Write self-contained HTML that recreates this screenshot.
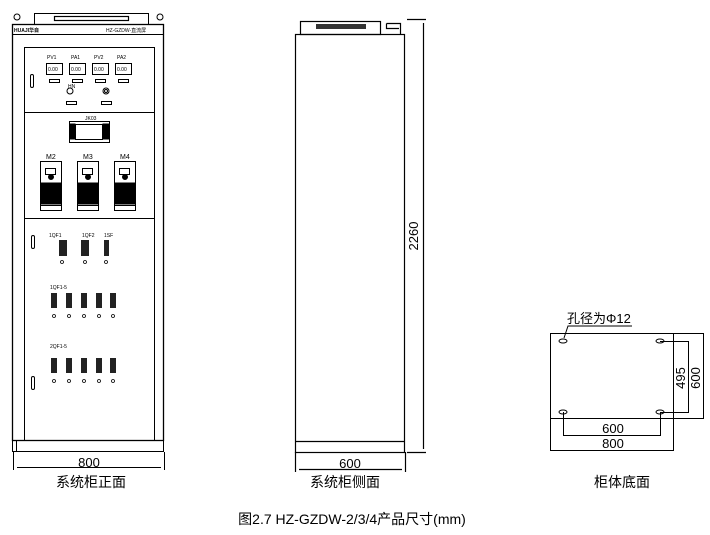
<!DOCTYPE html>
<html><head><meta charset="utf-8"><style>
html,body{margin:0;padding:0;background:#fff;}
svg{display:block;}
text{font-family:"Liberation Sans","Noto Sans CJK SC",sans-serif;fill:#000;}
</style></head><body>
<svg width="710" height="535" viewBox="0 0 710 535" xmlns="http://www.w3.org/2000/svg">
<g fill="none" stroke="#000" stroke-width="1">
<!-- FRONT -->
<rect x="34.5" y="13.5" width="114" height="11"/>
<rect x="54.5" y="16.5" width="74" height="4" stroke-width="1.2"/>
<circle cx="17" cy="17" r="3"/><circle cx="160" cy="17" r="3"/>
<rect x="12.5" y="24.5" width="151" height="416" stroke-width="1.3"/>
<line x1="12" y1="34.5" x2="164" y2="34.5"/>
<rect x="24.5" y="47.5" width="130" height="393"/>
<line x1="24" y1="112.5" x2="155" y2="112.5"/>
<line x1="24" y1="218.5" x2="155" y2="218.5"/>
<rect x="12.5" y="440.5" width="151" height="11"/>
<rect x="12.5" y="440.5" width="4" height="11"/>
<!-- meters -->
<rect x="46.5" y="63.5" width="16" height="11"/><rect x="69.5" y="63.5" width="16" height="11"/>
<rect x="92.5" y="63.5" width="16" height="11"/><rect x="115.5" y="63.5" width="16" height="11"/>
<rect x="49.5" y="79.5" width="10" height="3"/><rect x="72.5" y="79.5" width="10" height="3"/>
<rect x="95.5" y="79.5" width="10" height="3"/><rect x="118.5" y="79.5" width="10" height="3"/>
<circle cx="70" cy="91" r="3"/><circle cx="106" cy="91" r="3"/><circle cx="106" cy="91" r="1.5"/>
<rect x="66.5" y="101.5" width="10" height="3"/><rect x="101.5" y="101.5" width="10" height="3"/>
<rect x="30.5" y="74.5" width="3" height="13" rx="1.5"/>
<!-- JK03 -->
<rect x="69.5" y="121.5" width="40" height="21"/>
<rect x="75.5" y="124.5" width="27" height="15"/>
<rect x="70" y="124" width="5" height="15" fill="#000"/><rect x="103" y="124" width="6" height="15" fill="#000"/>
<!-- M modules -->
<g id="m">
<rect x="40.5" y="161.5" width="21" height="49"/>
<rect x="45.5" y="168.5" width="10" height="6"/>
<circle cx="51" cy="177" r="2.5" fill="#000"/>
<rect x="41" y="183" width="20" height="21" fill="#000"/>
<line x1="41" y1="205.5" x2="61" y2="205.5"/>
</g>
<use href="#m" x="37"/><use href="#m" x="74"/>
<!-- lower components -->
<rect x="31.5" y="235.5" width="3" height="13" rx="1.5"/>
<rect x="31.5" y="376.5" width="3" height="13" rx="1.5"/>
</g>
<g fill="#222">
<rect x="59" y="240" width="8" height="16"/><rect x="81" y="240" width="8" height="16"/><rect x="104" y="240" width="5" height="16"/>
<rect x="51" y="293" width="6" height="15"/><rect x="66" y="293" width="6" height="15"/><rect x="81" y="293" width="6" height="15"/><rect x="96" y="293" width="6" height="15"/><rect x="110" y="293" width="6" height="15"/>
<rect x="51" y="358" width="6" height="15"/><rect x="66" y="358" width="6" height="15"/><rect x="81" y="358" width="6" height="15"/><rect x="96" y="358" width="6" height="15"/><rect x="110" y="358" width="6" height="15"/>
</g>
<g fill="none" stroke="#000" stroke-width="0.8">
<circle cx="62" cy="262" r="1.5"/><circle cx="85" cy="262" r="1.5"/><circle cx="106" cy="262" r="1.5"/>
<circle cx="54" cy="316" r="1.5"/><circle cx="69" cy="316" r="1.5"/><circle cx="84" cy="316" r="1.5"/><circle cx="99" cy="316" r="1.5"/><circle cx="113" cy="316" r="1.5"/>
<circle cx="54" cy="381" r="1.5"/><circle cx="69" cy="381" r="1.5"/><circle cx="84" cy="381" r="1.5"/><circle cx="99" cy="381" r="1.5"/><circle cx="113" cy="381" r="1.5"/>
</g>
<g font-size="5">
<text x="14" y="32" font-weight="bold">HUAJI华自</text>
<text x="106" y="32">HZ-GZDW-直流屏</text>
<text x="47" y="59">PV1</text><text x="71" y="59">PA1</text><text x="94" y="59">PV2</text><text x="117" y="59">PA2</text>
<text x="48" y="71">0.00</text><text x="71" y="71">0.00</text><text x="94" y="71">0.00</text><text x="117" y="71">0.00</text>
<text x="68" y="88">HN</text><text x="85" y="120">JK03</text>
<text x="49" y="237">1QF1</text><text x="82" y="237">1QF2</text><text x="104" y="237">1SF</text>
<text x="50" y="289">1QF1-5</text><text x="50" y="348">2QF1-5</text>
</g>
<g font-size="7"><text x="46" y="159">M2</text><text x="83" y="159">M3</text><text x="120" y="159">M4</text></g>
<!-- front dim -->
<g stroke="#000" fill="none">
<line x1="13.5" y1="452" x2="13.5" y2="470"/><line x1="164.5" y1="452" x2="164.5" y2="470"/>
<line x1="17" y1="467.5" x2="161" y2="467.5"/>
</g>
<text x="89" y="467" font-size="13" text-anchor="middle">800</text>
<text x="91" y="487" font-size="14" text-anchor="middle">系统柜正面</text>

<!-- SIDE -->
<g fill="none" stroke="#000" stroke-width="1.2">
<rect x="300.5" y="21.5" width="80" height="13"/>
<path d="M386.5 23.5 H400.5 V34 M386.5 23.5 V28.5 H399"/>
<rect x="295.5" y="34.5" width="109" height="418"/>
<line x1="295" y1="441.5" x2="405" y2="441.5"/>
<line x1="407" y1="19.5" x2="426" y2="19.5"/><line x1="407" y1="452.5" x2="426" y2="452.5"/>
<line x1="423.5" y1="23" x2="423.5" y2="449"/>
<line x1="295.5" y1="452" x2="295.5" y2="472"/><line x1="405.5" y1="452" x2="405.5" y2="472"/>
<line x1="299" y1="469.5" x2="402" y2="469.5"/>
</g>
<rect x="316" y="24" width="50" height="5" fill="#333"/>
<text x="350" y="468" font-size="13" text-anchor="middle">600</text>
<text x="418" y="236" font-size="13" text-anchor="middle" transform="rotate(-90 418 236)">2260</text>
<text x="345" y="487" font-size="14" text-anchor="middle">系统柜侧面</text>

<!-- BASE -->
<g fill="none" stroke="#000" stroke-width="1">
<rect x="550.5" y="333.5" width="123" height="85"/>
<path d="M673 333.5 H703.5 V418.5 H673"/>
<rect x="550.5" y="418.5" width="123" height="32"/>
<ellipse cx="563" cy="341" rx="4" ry="2"/><ellipse cx="660" cy="341" rx="4" ry="2"/>
<ellipse cx="563" cy="412" rx="4" ry="2"/><ellipse cx="660" cy="412" rx="4" ry="2"/>
<path d="M660 341.5 H688.5 V412.5 H660"/>
<path d="M563.5 412 V435.5 H660.5 V412"/>
<path d="M564 338 L568 326 H632"/>
</g>
<text x="567" y="323" font-size="13">孔径为Φ12</text>
<text x="685" y="378" font-size="13" text-anchor="middle" transform="rotate(-90 685 378)">495</text>
<text x="700" y="378" font-size="13" text-anchor="middle" transform="rotate(-90 700 378)">600</text>
<text x="613" y="433" font-size="13" text-anchor="middle">600</text>
<text x="613" y="448" font-size="13" text-anchor="middle">800</text>
<text x="622" y="487" font-size="14" text-anchor="middle">柜体底面</text>

<text x="352" y="524" font-size="14" text-anchor="middle">图2.7 HZ-GZDW-2/3/4产品尺寸(mm)</text>
</svg>
</body></html>
